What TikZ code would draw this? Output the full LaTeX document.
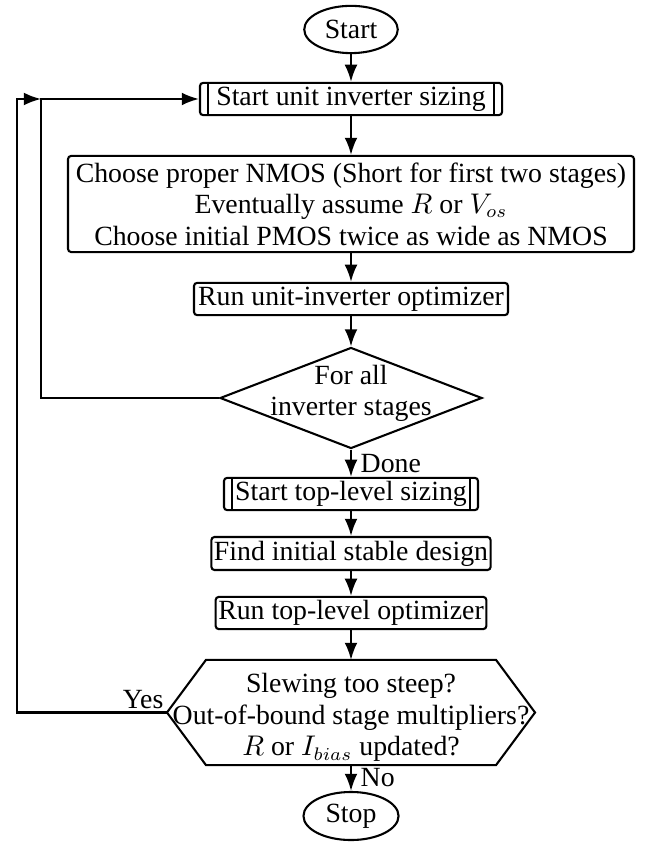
\documentclass[tikz,border=0pt]{standalone}
\usepackage{fontspec}
\setmainfont{Liberation Serif}
\usetikzlibrary{arrows.meta,calc,shapes.geometric}

\begin{document}
\begin{tikzpicture}[x=0.385pt, y=-0.385pt, >=Latex, thick,
  font=\fontsize{10.7pt}{12.1pt}\selectfont,
  term/.style={ellipse, draw, inner sep=0pt, minimum width=36pt, minimum height=18.2pt},
  proc/.style={rectangle, draw, rounded corners=1.2pt, inner sep=1pt, minimum height=12.4pt},
  subproc/.style={proc, path picture={
    \draw ([xshift=3pt]path picture bounding box.north west) -- ([xshift=3pt]path picture bounding box.south west);
    \draw ([xshift=-3pt]path picture bounding box.north east) -- ([xshift=-3pt]path picture bounding box.south east);}},
  flow/.style={->}]

\useasboundingbox (0,0) rectangle (649,842);

% blocks
\node[term] (start) at (351,29.5) {Start};
\node[subproc, minimum width=116.3pt] (unit) at (351,99) {Start unit inverter sizing};
\node[proc, align=center, minimum width=217.9pt, minimum height=37pt, inner sep=0pt] (nmos) at (351,204)
  {Choose proper NMOS (Short for first two stages)\\
   Eventually assume $R$ or $V_{os}$\\
   Choose initial PMOS twice as wide as NMOS};
\node[proc, minimum width=120.9pt] (runu) at (351,299) {Run unit-inverter optimizer};
\node[diamond, draw, inner sep=0pt, minimum width=100.9pt, minimum height=38.9pt,
  label={[align=center, yshift=1.8pt]center:For all\\inverter stages}] (loop) at (351,398) {};
\node[subproc, minimum width=97.8pt] (top) at (351,494) {Start top-level sizing};
\node[proc, minimum width=107.4pt, minimum height=12.7pt] (stable) at (351,553.5) {Find initial stable design};
\node[proc, minimum width=104pt] (runt) at (351,613) {Run top-level optimizer};
\node[inner sep=0pt, minimum width=140.9pt, minimum height=39.7pt,
  label={[align=center, yshift=-2pt]center:Slewing too steep?\\
   Out-of-bound stage multipliers?\\
   $R$ or $I_{bias}$ updated?}] (check) at (351,712.5) {};
\draw (check.west) -- ($(check.north west)+(39,0)$) -- ($(check.north east)+(-39,0)$)
  -- (check.east) -- ($(check.south east)+(-39,0)$) -- ($(check.south west)+(39,0)$) -- cycle;
\node[term, minimum width=36.6pt, minimum height=18.5pt] (stop) at (351,816) {Stop};

% main flow
\draw[flow] (start) -- (unit);
\draw[flow] (unit) -- (nmos);
\draw[flow] (nmos) -- (runu);
\draw[flow] (runu) -- (loop);
\draw[flow] (loop) -- (top) node[right, midway] {Done};
\draw[flow] (top) -- (stable);
\draw[flow] (stable) -- (runt);
\draw[flow] (runt) -- (check);
\draw[flow] (check) -- (stop) node[right, midway] {No};

% loops back
\coordinate (inner) at (41,0 |- unit.west);
\coordinate (outer) at (17,0 |- unit.west);
\draw[flow] (loop.west) -| (inner) -- (unit.west);
\draw[flow] (check.west) -| (outer) node[pos=0, above left, inner sep=1pt] {Yes} -- (inner);

\end{tikzpicture}
\end{document}
